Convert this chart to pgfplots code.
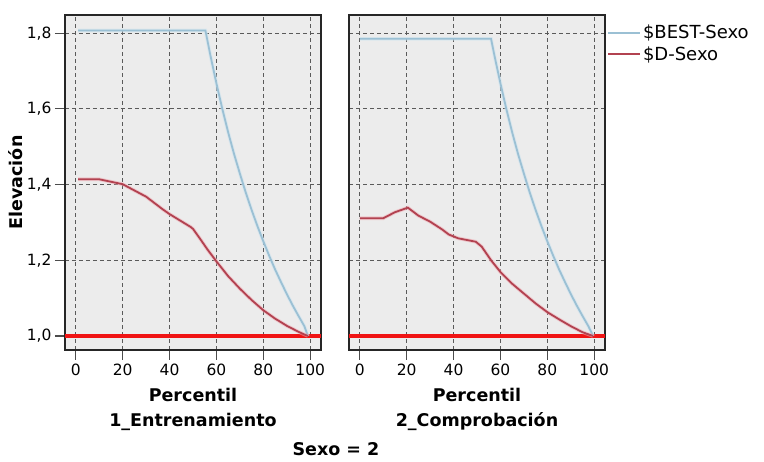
\documentclass[border=0pt]{standalone}
\usepackage{pgfplots}
\pgfplotsset{compat=1.18}
\usepackage{fontspec}
\setmainfont{DejaVu Sans}
\definecolor{bestc}{RGB}{155,192,212}
\definecolor{bestlt}{RGB}{205,228,240}
\definecolor{dc}{RGB}{178,66,80}
\definecolor{dlt}{RGB}{240,170,178}
\definecolor{refc}{RGB}{240,20,20}
\definecolor{bgc}{RGB}{236,236,236}
\definecolor{gridc}{RGB}{90,90,90}
\pgfplotsset{
  panel/.style={
    scale only axis,
    width=256pt, height=335pt,
    xmin=-4.6, xmax=104.6,
    ymin=0.963, ymax=1.848,
    xtick={0,20,40,60,80,100},
    ytick={1.0,1.2,1.4,1.6,1.8},
    xtick pos=bottom, ytick pos=left,
    tick align=outside,
    major tick length=10pt,
    every tick/.style={draw=black!70, line width=1.2pt},
    grid=major,
    major grid style={draw=gridc, line width=0.9pt, dash pattern=on 4pt off 3pt},
    axis background/.style={fill=bgc},
    axis line style={draw=black!85, line width=1.2pt},
    tick label style={font=\fontsize{15.5}{18}\selectfont},
    /pgf/number format/assume math mode=true,
    /pgf/number format/use comma,
    /pgf/number format/fixed,
    /pgf/number format/fixed zerofill,
    /pgf/number format/precision=1,
    xticklabel={\pgfmathprintnumber[fixed,precision=0,fixed zerofill=false]{\tick}},
    xlabel style={align=center, font=\bfseries\fontsize{17.5}{24.7}\selectfont,
      at={(axis description cs:0.5,-0.177)}, anchor=center},
    ylabel style={font=\bfseries\fontsize{17.5}{21}\selectfont},
    clip=false,
  },
  halo/.style={line width=3.6pt, opacity=0.55, forget plot},
}
\begin{document}
\begin{tikzpicture}[x=1pt,y=1pt]
\useasboundingbox (0,0) rectangle (764,462);
\begin{axis}[panel, at={(65pt,112pt)}, anchor=south west,
  xlabel={Percentil\\1\_Entrenamiento},
  ylabel={Elevación},
  ylabel style={at={(axis description cs:-0.191,0.5)}, anchor=center}]
\addplot[refc, line width=3.5pt, forget plot] coordinates {(-4.6,1.0) (104.6,1.0)};
\addplot[bestlt, halo] coordinates {(1,1.807) (55.3,1.807) (57.5,1.739) (60,1.667) (62.5,1.600) (65,1.538) (67.5,1.481) (70,1.429) (72.5,1.379) (75,1.333) (77.5,1.290) (80,1.250) (82.5,1.212) (85,1.176) (87.5,1.143) (90,1.111) (92.5,1.081) (95,1.053) (97.5,1.026) (99,1.0)};
\addplot[bestc, line width=1.8pt, forget plot] coordinates {(1,1.807) (55.3,1.807) (57.5,1.739) (60,1.667) (62.5,1.600) (65,1.538) (67.5,1.481) (70,1.429) (72.5,1.379) (75,1.333) (77.5,1.290) (80,1.250) (82.5,1.212) (85,1.176) (87.5,1.143) (90,1.111) (92.5,1.081) (95,1.053) (97.5,1.026) (99,1.0)};
\addplot[dlt, halo] coordinates {(1,1.414) (10,1.414) (20,1.401) (30,1.368) (37,1.335) (40,1.322) (49,1.288) (50,1.283) (53,1.257) (56,1.230) (60,1.197) (65,1.158) (70,1.125) (75,1.095) (80,1.068) (85,1.046) (90,1.027) (95,1.011) (99,1.0)};
\addplot[dc, line width=1.8pt, forget plot] coordinates {(1,1.414) (10,1.414) (20,1.401) (30,1.368) (37,1.335) (40,1.322) (49,1.288) (50,1.283) (53,1.257) (56,1.230) (60,1.197) (65,1.158) (70,1.125) (75,1.095) (80,1.068) (85,1.046) (90,1.027) (95,1.011) (99,1.0)};
\end{axis}
\begin{axis}[panel, at={(349pt,112pt)}, anchor=south west,
  xlabel={Percentil\\2\_Comprobación},
  yticklabels={}, ytick style={draw=none},
  legend style={at={(axis description cs:1,1)}, anchor=north west, xshift=2pt, yshift=-8pt,
    draw=none, fill=none, inner sep=0pt, row sep=2pt,
    font=\fontsize{18}{21}\selectfont, nodes={inner sep=2pt}},
  legend cell align=left,
  legend image code/.code={\draw[#1] (0pt,0pt) -- (32pt,0pt);}]
\addplot[refc, line width=3.5pt, forget plot] coordinates {(-4.6,1.0) (104.6,1.0)};
\addplot[bestlt, halo] coordinates {(0,1.785) (56,1.785) (57.5,1.739) (60,1.667) (62.5,1.600) (65,1.538) (67.5,1.481) (70,1.429) (72.5,1.379) (75,1.333) (77.5,1.290) (80,1.250) (82.5,1.212) (85,1.176) (87.5,1.143) (90,1.111) (92.5,1.081) (95,1.053) (97.5,1.026) (99.5,1.0)};
\addplot[bestc, line width=1.8pt] coordinates {(0,1.785) (56,1.785) (57.5,1.739) (60,1.667) (62.5,1.600) (65,1.538) (67.5,1.481) (70,1.429) (72.5,1.379) (75,1.333) (77.5,1.290) (80,1.250) (82.5,1.212) (85,1.176) (87.5,1.143) (90,1.111) (92.5,1.081) (95,1.053) (97.5,1.026) (99.5,1.0)};
\addlegendentry{\$BEST-Sexo}
\addplot[dlt, halo] coordinates {(0,1.311) (10,1.311) (15,1.327) (20.5,1.339) (25,1.318) (30,1.302) (35,1.282) (38,1.268) (42,1.258) (49.5,1.249) (52,1.236) (56,1.200) (60,1.169) (65,1.138) (70,1.112) (75,1.086) (80,1.063) (85,1.044) (90,1.026) (95,1.010) (99.5,1.0)};
\addplot[dc, line width=1.8pt] coordinates {(0,1.311) (10,1.311) (15,1.327) (20.5,1.339) (25,1.318) (30,1.302) (35,1.282) (38,1.268) (42,1.258) (49.5,1.249) (52,1.236) (56,1.200) (60,1.169) (65,1.138) (70,1.112) (75,1.086) (80,1.063) (85,1.044) (90,1.026) (95,1.010) (99.5,1.0)};
\addlegendentry{\$D-Sexo}
\end{axis}
\node[font=\bfseries\fontsize{17.5}{21}\selectfont] at (336,13) {Sexo = 2};
\end{tikzpicture}
\end{document}
